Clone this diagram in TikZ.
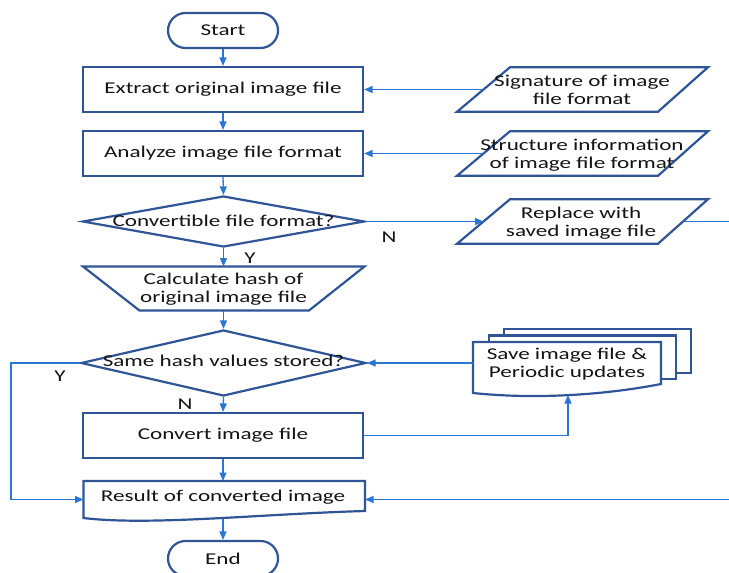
\documentclass[tikz,border=0pt]{standalone}
\usepackage{fontspec}
\setmainfont{Carlito}[FakeStretch=1.4]
\usetikzlibrary{arrows.meta,shapes.geometric,shapes.misc}
\definecolor{bord}{HTML}{2F5597}
\definecolor{conn}{HTML}{2976D6}
\begin{document}
\begin{tikzpicture}[x=1pt,y=-1pt,
  txt/.style={font=\fontsize{16.5}{18}\selectfont, align=center, text=black!92, inner sep=0pt},
  shp/.style={draw=bord, line width=2.2pt, fill=white},
  term/.style={rounded rectangle, shp, minimum width=110pt, minimum height=35pt, inner sep=0pt, txt},
  proc/.style={rectangle, shp, minimum width=280pt, minimum height=45pt, txt},
  dia/.style={diamond, shp, inner sep=0pt},
  arr/.style={draw=conn, line width=1.3pt, -{Triangle[length=8.5pt,width=7pt]}}]
\useasboundingbox (0,0) rectangle (729,573);

% main column
\node[term] (start) at (223,30.5) {Start};
\node[proc] (extract) at (223,89.5) {Extract original image file};
\node[proc] (analyze) at (223,153.5) {Analyze image file format};
\node[dia, minimum width=282pt, minimum height=51pt] (d1) at (223.5,221.5) {};
\node[txt] (d1t) at (223.5,220.5) {Convertible file format?};

\draw[shp] (83,266.5) -- (364.5,266.5) -- (309,310.5) -- (139.5,310.5) -- cycle;
\coordinate (trapT) at (223.5,266.5);
\coordinate (trapB) at (223.5,310.5);
\node[txt] (trapt) at (223.5,289) {Calculate hash of\\original image file};

\node[dia, minimum width=285pt, minimum height=66pt] (d2) at (223.5,363) {};
\node[txt] (d2t) at (223.5,361) {Same hash values stored?};

\node[proc] (convert) at (223,435.5) {Convert image file};

\draw[shp] (83.5,481) -- (365,481) -- (365,511) .. controls (260,514) and (150,526) .. (83.5,518) -- cycle;
\coordinate (resT) at (223,481);
\coordinate (resB) at (223,518.5);
\coordinate (resL) at (83.5,499.5);
\coordinate (resR) at (365,499.5);
\node[txt] (rest) at (223,497) {Result of converted image};

\node[term] (end) at (223,558.5) {End};

% right column: parallelograms
\draw[shp] (457,111.75) -- (510,67.25) -- (708,67.25) -- (658,111.75) -- cycle;
\coordinate (sigL) at (483.5,89.5);
\node[txt] (sigt) at (582,90) {Signature of image\\file format};

\draw[shp] (457,175.75) -- (510,131.25) -- (708,131.25) -- (658,175.75) -- cycle;
\coordinate (strL) at (483.5,153.5);
\node[txt] (strt) at (582,155) {Structure information\\of image file format};

\draw[shp] (457,243.75) -- (510,199.25) -- (708,199.25) -- (658,243.75) -- cycle;
\coordinate (repL) at (483.5,221.5);
\coordinate (repR) at (683,221.5);
\node[txt] (rept) at (581,223) {Replace with\\saved image file};

% multi-document
\draw[shp] (504,329) rectangle (691,373);
\draw[shp] (489,335.5) rectangle (676,379);
\draw[shp] (473,342) -- (661,342) -- (661,384) .. controls (610,394) and (540,400) .. (473,393) -- cycle;
\coordinate (mdL) at (473,363);
\coordinate (mdB) at (568,395);
\node[txt] (mdt) at (567,364) {Save image file \&\\Periodic updates};

% loop corners
\coordinate (rloop) at (730.5,221.5);
\coordinate (lloop) at (11,363);

% connectors
\draw[arr] (start.south) -- (extract.north);
\draw[arr] (extract.south) -- (analyze.north);
\draw[arr] (analyze.south) -- (d1.north);
\draw[arr] (d1.south) -- (trapT);
\draw[arr] (trapB) -- (d2.north);
\draw[arr] (d2.south) -- (convert.north);
\draw[arr] (convert.south) -- (resT);
\draw[arr] (resB) -- (end.north);
\draw[arr] (sigL) -- (extract.east);
\draw[arr] (strL) -- (analyze.east);
\draw[arr] (d1.east) -- (repL);
\draw[arr] (repR) -- (rloop) |- (resR);
\draw[arr] (mdL) -- (d2.east);
\draw[arr] (convert.east) -| (mdB);
\draw[arr] (d2.west) -- (lloop) |- (resL);

% labels
\node[txt] (ly1) at (250,258) {Y};
\node[txt] (ln1) at (389,237) {N};
\node[txt] (ly2) at (60,376) {Y};
\node[txt] (ln2) at (185,404) {N};
\end{tikzpicture}
\end{document}
